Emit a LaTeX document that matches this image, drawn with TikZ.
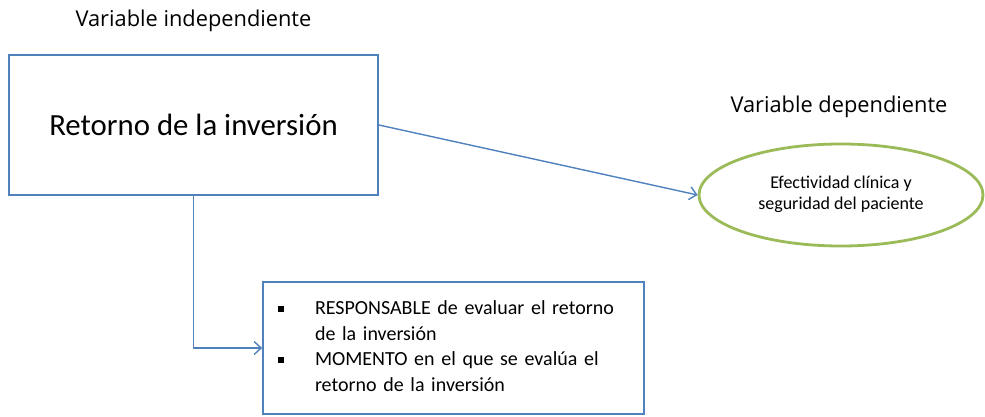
\documentclass[tikz,border=0pt]{standalone}
\usepackage{fontspec}
\setmainfont{Carlito}
\newfontfamily\titlefont{Open Sans}
\usepackage{tikz}
\usetikzlibrary{arrows.meta,shapes.geometric,positioning}
\definecolor{boxblue}{RGB}{79,129,189}
\definecolor{ovalgreen}{RGB}{155,187,89}
\tikzset{
  var box/.style={
    draw=boxblue,
    line width=1.7pt,
    inner sep=0pt,
    minimum width=369pt,
    minimum height=140pt,
    font=\fontsize{30.8}{36}\selectfont
  },
  var ellipse/.style={
    draw=ovalgreen,
    shape=ellipse,
    line width=2.8pt,
    inner sep=0pt,
    minimum width=284pt,
    minimum height=102pt,
    align=center,
    font=\fontsize{18}{20.5}\selectfont
  },
  item box/.style={
    draw=boxblue,
    line width=1.7pt,
    inner xsep=14pt,
    inner ysep=0pt,
    minimum width=381pt,
    minimum height=132pt,
    text width=353pt,
    align=left,
    font=\fontsize{20}{25.7}\selectfont
  },
  var title/.style={
    anchor=base,
    inner sep=0pt,
    text=black,
    font=\titlefont\fontsize{21.8}{26}\selectfont
  },
  link/.style={
    draw=boxblue,
    line width=1.4pt
  }
}
\newcommand{\itemmark}{\makebox[38pt][l]{\hspace*{0.5pt}\rule[2.5pt]{6pt}{6pt}}}
\newcommand{\itemskip}{\hspace*{38pt}}

\begin{document}
\begin{tikzpicture} [x=1pt, y=-1pt, >={Straight Barb[length=7pt,width=13pt]}]
   \useasboundingbox (0,0) rectangle (985,417);

   \node[var box] (ind) at (193.5,125) {Retorno de la inversi\'on};
   \node[var ellipse] (dep) at (841,195)
     {\strut Efectividad cl\'inica y\\\strut seguridad del paciente};
   \node[item box] (resp) at (453.5,348)
     {\strut\itemmark RESPONSABLE de evaluar el retorno\\
      \strut\itemskip de la inversi\'on\\
      \strut\itemmark MOMENTO en el que se eval\'ua el\\
      \strut\itemskip retorno de la inversi\'on};

   \node[var title] (tind) at (193.5,27) {Variable independiente};
   \node[var title] (tdep) at (839,113) {Variable dependiente};

   \path[->] (ind.east)  edge [link] (dep.west)
             (ind.south) edge [link, to path={|- (\tikztotarget)}] (resp.west);
\end{tikzpicture}
\end{document}
